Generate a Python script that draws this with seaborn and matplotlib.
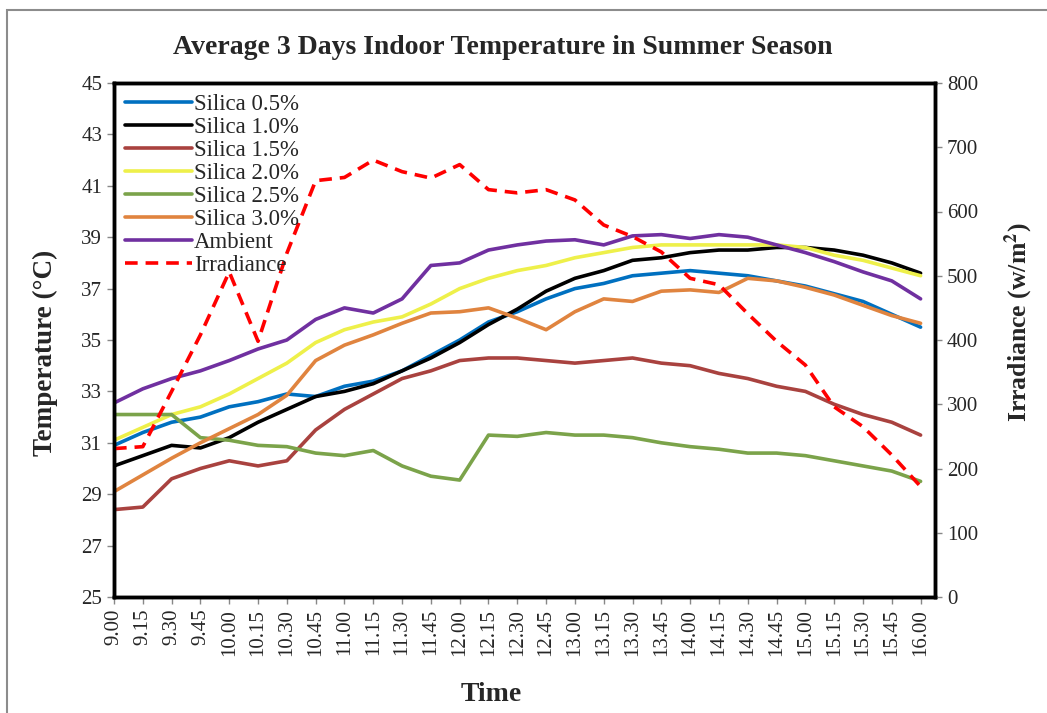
import numpy as np
import pandas as pd
import matplotlib
matplotlib.use('Agg')
import matplotlib.pyplot as plt
from matplotlib.patches import Rectangle
import seaborn as sns

# time of day (category axis)
times = ['9.00', '9.15', '9.30', '9.45', '10.00', '10.15', '10.30', '10.45',
         '11.00', '11.15', '11.30', '11.45', '12.00', '12.15', '12.30', '12.45',
         '13.00', '13.15', '13.30', '13.45', '14.00', '14.15', '14.30', '14.45',
         '15.00', '15.15', '15.30', '15.45', '16.00']

# indoor temperatures (deg C)
silica_05 = [30.9, 31.4, 31.8, 32.0, 32.4, 32.6, 32.9, 32.8, 33.2, 33.4, 33.8, 34.4, 35.0, 35.7, 36.1,
             36.6, 37.0, 37.2, 37.5, 37.6, 37.7, 37.6, 37.5, 37.3, 37.1, 36.8, 36.5, 36.0, 35.5]
silica_10 = [30.1, 30.5, 30.9, 30.8, 31.2, 31.8, 32.3, 32.8, 33.0, 33.3, 33.8, 34.3, 34.9, 35.6, 36.2,
             36.9, 37.4, 37.7, 38.1, 38.2, 38.4, 38.5, 38.5, 38.6, 38.6, 38.5, 38.3, 38.0, 37.6]
silica_15 = [28.4, 28.5, 29.6, 30.0, 30.3, 30.1, 30.3, 31.5, 32.3, 32.9, 33.5, 33.8, 34.2, 34.3, 34.3,
             34.2, 34.1, 34.2, 34.3, 34.1, 34.0, 33.7, 33.5, 33.2, 33.0, 32.5, 32.1, 31.8, 31.3]
silica_20 = [31.1, 31.6, 32.1, 32.4, 32.9, 33.5, 34.1, 34.9, 35.4, 35.7, 35.9, 36.4, 37.0, 37.4, 37.7,
             37.9, 38.2, 38.4, 38.6, 38.7, 38.7, 38.7, 38.7, 38.7, 38.6, 38.3, 38.1, 37.8, 37.5]
silica_25 = [32.1, 32.1, 32.1, 31.2, 31.1, 30.9, 30.85, 30.6, 30.5, 30.7, 30.1, 29.7, 29.55, 31.3, 31.25,
             31.4, 31.3, 31.3, 31.2, 31.0, 30.85, 30.75, 30.6, 30.6, 30.5, 30.3, 30.1, 29.9, 29.5]
silica_30 = [29.1, 29.75, 30.4, 31.0, 31.55, 32.1, 32.85, 34.2, 34.8, 35.2, 35.65, 36.05, 36.1, 36.25, 35.85,
             35.4, 36.1, 36.6, 36.5, 36.9, 36.95, 36.85, 37.4, 37.3, 37.05, 36.75, 36.35, 35.95, 35.65]
ambient = [32.55, 33.1, 33.5, 33.8, 34.2, 34.65, 35.0, 35.8, 36.25, 36.05, 36.6, 37.9, 38.0, 38.5, 38.7,
           38.85, 38.9, 38.7, 39.05, 39.1, 38.95, 39.1, 39.0, 38.7, 38.4, 38.05, 37.65, 37.3, 36.6]

# solar irradiance (w/m2), right axis
irradiance = [231, 234, 320, 408, 506, 398, 535, 648, 653, 680, 662, 652, 673, 634, 629,
              634, 618, 579, 561, 537, 496, 486, 441, 398, 361, 296, 265, 221, 172]

series = {
    'Silica 0.5%': (silica_05, '#0070C0'),
    'Silica 1.0%': (silica_10, '#000000'),
    'Silica 1.5%': (silica_15, '#A9423F'),
    'Silica 2.0%': (silica_20, '#EEF04A'),
    'Silica 2.5%': (silica_25, '#7BA34A'),
    'Silica 3.0%': (silica_30, '#E0843F'),
    'Ambient': (ambient, '#7030A0'),
}

sns.set_style('ticks')
plt.rcParams['font.family'] = ['Liberation Serif', 'DejaVu Serif']
plt.rcParams['mathtext.fontset'] = 'stix'

fig = plt.figure(figsize=(10.47, 7.13), dpi=100)
ax1 = fig.add_axes([114 / 1047, 1 - 597 / 713, 821 / 1047, 514 / 713])

pos = np.arange(len(times))
for name, (vals, col) in series.items():
    df = pd.DataFrame({'pos': pos, 'temp': vals})
    sns.lineplot(data=df, x='pos', y='temp', ax=ax1, color=col, linewidth=2.6, label=name)

ax2 = ax1.twinx()
df_irr = pd.DataFrame({'pos': pos, 'irr': irradiance})
sns.lineplot(data=df_irr, x='pos', y='irr', ax=ax2, color='#FF0000', linewidth=2.6,
             label='Irradiance', dashes=False)
ax2.lines[0].set_dashes((3.5, 2.2))

ax1.set_xlim(0, 28.5)
ax1.set_ylim(25, 45)
ax1.set_yticks(range(25, 46, 2))
ax2.set_ylim(0, 800)
ax2.set_yticks(range(0, 801, 100))
ax1.set_xticks(pos)
ax1.set_xticklabels(times, rotation=90)

ax1.set_xlabel('Time', fontsize=20, fontweight='bold')
ax1.xaxis.set_label_coords(0.459, -0.166)
ax1.set_ylabel('Temperature (\u00b0C)', fontsize=19.5, fontweight='bold')
ax1.yaxis.set_label_coords(-0.068, 0.475)
ax2.set_ylabel('Irradiance (w/m$^{\\mathbf{2}}$)', fontsize=18.5, fontweight='bold')
ax2.yaxis.set_label_coords(1.082, 0.535)
fig.suptitle('Average 3 Days Indoor Temperature in Summer Season', fontsize=20,
             fontweight='bold', x=503 / 1047, y=1 - 47 / 713, va='center')

for ax in (ax1, ax2):
    ax.tick_params(axis='both', labelsize=15, color='#888888', length=5, width=1, direction='out')
    for sp in ax.spines.values():
        sp.set_visible(True)
        sp.set_linewidth(2.5)
        sp.set_color('black')

# combined legend on top axis
h1, l1 = ax1.get_legend_handles_labels()
h2, l2 = ax2.get_legend_handles_labels()
if ax1.get_legend() is not None:
    ax1.get_legend().remove()
leg = ax2.legend(h1 + h2, l1 + l2, loc='upper left', frameon=False, fontsize=16.5,
                 handlelength=2.9, handletextpad=0.1, labelspacing=0.08,
                 borderaxespad=0.3, borderpad=0.2)
leg.get_lines()[-1].set_dashes((3.5, 2.2))

# outer chart-area border
fig.patches.append(Rectangle((7 / 1047, -0.05), 1.05, 1 - 10 / 713 + 0.05,
                             transform=fig.transFigure, fill=False,
                             edgecolor='#8c8c8c', linewidth=1.5))

fig.savefig('out.png', dpi=100)
